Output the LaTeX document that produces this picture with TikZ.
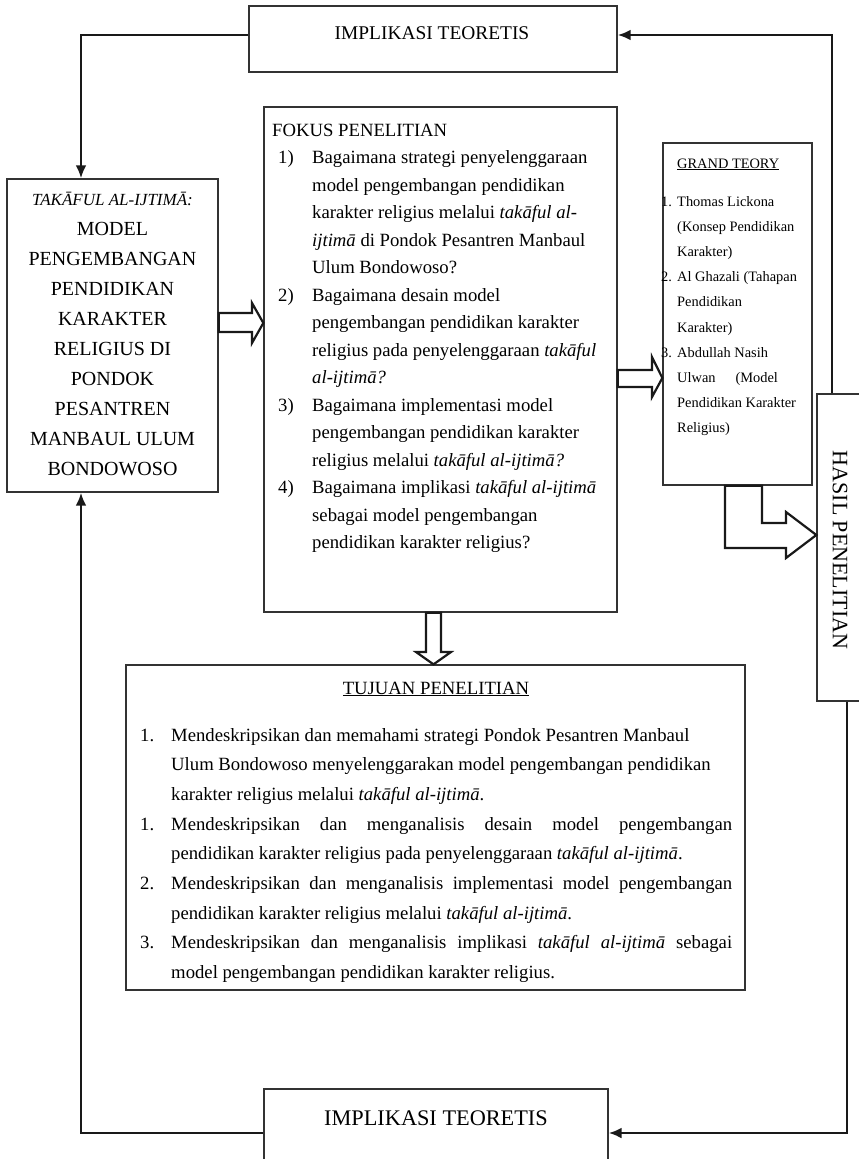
\documentclass[tikz,border=0pt]{standalone}
\usepackage{fontspec}
\setmainfont{Liberation Serif}
\usetikzlibrary{arrows.meta,calc}
\begin{document}
\begin{tikzpicture}[x=1pt,y=-1pt,
  box/.style={draw=black!80,line width=1.3pt,rectangle,inner sep=0pt},
  conn/.style={line width=2.8pt,draw=black!90,-{Latex[length=13pt,width=11pt]}},
  blk/.style={line width=2.2pt,draw=black!90,fill=white,line join=miter},
  txt/.style={inner sep=0pt,align=left},
  ctxt/.style={inner sep=0pt,align=center},
]
\useasboundingbox (0,0) rectangle (859,1159);
\clip (0,0) rectangle (859,1159);

% boxes
\node[box,minimum width=368pt,minimum height=66pt] (top) at (433,39) {};
\node[box,minimum width=211pt,minimum height=313pt] (left) at (112.5,335.5) {};
\node[box,minimum width=353pt,minimum height=505pt] (fokus) at (440.5,359.5) {};
\node[box,minimum width=149pt,minimum height=342pt] (grand) at (737.5,314) {};
\node[box,minimum width=63pt,minimum height=307pt] (hasil) at (848.5,547.5) {};
\node[box,minimum width=619pt,minimum height=325pt] (tujuan) at (435.5,827.5) {};
\node[box,minimum width=344pt,minimum height=91pt] (bot) at (436,1134.5) {};

% texts
\node[ctxt,anchor=base,font=\fontsize{19.4}{24}\selectfont] (toptxt) at (432,39.4) {IMPLIKASI TEORETIS};
\node[ctxt,anchor=base,font=\fontsize{22.3}{26}\selectfont] (bottxt) at (436,1125.4) {IMPLIKASI TEORETIS};

\node[ctxt,anchor=base,font=\fontsize{20}{30}\selectfont] (lefttxt) at (112.5,475) {{\fontsize{17}{30}\selectfont\itshape TAKĀFUL AL-IJTIMĀ:}\\MODEL\\PENGEMBANGAN\\PENDIDIKAN\\KARAKTER\\RELIGIUS DI\\PONDOK\\PESANTREN\\MANBAUL ULUM\\BONDOWOSO};

\node[txt,anchor=base west,font=\fontsize{18.7}{27.5}\selectfont] (fokustitle) at (272,136) {FOKUS PENELITIAN};
\node[txt,anchor=base west,font=\fontsize{18.7}{27.5}\selectfont] (fokustxt) at (278,548.5) {%
\makebox[34pt][l]{1)}Bagaimana strategi penyelenggaraan\\
\makebox[34pt][l]{}model pengembangan pendidikan\\
\makebox[34pt][l]{}karakter religius melalui \textit{takāful al-}\\
\makebox[34pt][l]{}\textit{ijtimā} di Pondok Pesantren Manbaul\\
\makebox[34pt][l]{}Ulum Bondowoso?\\
\makebox[34pt][l]{2)}Bagaimana desain model\\
\makebox[34pt][l]{}pengembangan pendidikan karakter\\
\makebox[34pt][l]{}religius pada penyelenggaraan \textit{takāful}\\
\makebox[34pt][l]{}\textit{al-ijtimā?}\\
\makebox[34pt][l]{3)}Bagaimana implementasi model\\
\makebox[34pt][l]{}pengembangan pendidikan karakter\\
\makebox[34pt][l]{}religius melalui \textit{takāful al-ijtimā?}\\
\makebox[34pt][l]{4)}Bagaimana implikasi \textit{takāful al-ijtimā}\\
\makebox[34pt][l]{}sebagai model pengembangan\\
\makebox[34pt][l]{}pendidikan karakter religius?};

\node[txt,anchor=base west,font=\fontsize{14.4}{25.2}\selectfont] (grandtitle) at (677,168) {\underline{GRAND TEORY}};
\node[txt,anchor=base west,font=\fontsize{14.4}{25.2}\selectfont] (grandtxt) at (661,432.8) {%
\makebox[16pt][l]{1.}Thomas Lickona\\
\makebox[16pt][l]{}(Konsep Pendidikan\\
\makebox[16pt][l]{}Karakter)\\
\makebox[16pt][l]{2.}Al Ghazali (Tahapan\\
\makebox[16pt][l]{}Pendidikan\\
\makebox[16pt][l]{}Karakter)\\
\makebox[16pt][l]{3.}Abdullah Nasih\\
\makebox[16pt][l]{}Ulwan\hspace{20pt}(Model\\
\makebox[16pt][l]{}Pendidikan Karakter\\
\makebox[16pt][l]{}Religius)};

\node[inner sep=0pt,rotate=-90,font=\fontsize{22}{26}\selectfont] (hasiltxt) at (840,550) {HASIL PENELITIAN};

\node[ctxt,anchor=base,font=\fontsize{18.7}{27.5}\selectfont] (tujuantitle) at (436,694) {\underline{TUJUAN PENELITIAN}};
\node[txt,anchor=base west,font=\fontsize{18.7}{29.7}\selectfont] (tujuantxt) at (140,978.6) {%
\makebox[31pt][l]{1.}Mendeskripsikan dan memahami strategi Pondok Pesantren Manbaul\\
\makebox[31pt][l]{}Ulum Bondowoso menyelenggarakan model pengembangan pendidikan\\
\makebox[31pt][l]{}karakter religius melalui \textit{takāful al-ijtimā}.\\
\makebox[31pt][l]{1.}\makebox[561pt][s]{Mendeskripsikan dan menganalisis desain model pengembangan}\\
\makebox[31pt][l]{}pendidikan karakter religius pada penyelenggaraan \textit{takāful al-ijtimā}.\\
\makebox[31pt][l]{2.}\makebox[561pt][s]{Mendeskripsikan dan menganalisis implementasi model pengembangan}\\
\makebox[31pt][l]{}pendidikan karakter religius melalui \textit{takāful al-ijtimā}.\\
\makebox[31pt][l]{3.}\makebox[561pt][s]{Mendeskripsikan dan menganalisis implikasi \textit{takāful al-ijtimā} sebagai}\\
\makebox[31pt][l]{}model pengembangan pendidikan karakter religius.};

% connectors
\coordinate (cTL) at (81,35);
\coordinate (cTR) at (832,35);
\coordinate (cBR) at (847,1133);
\coordinate (cBL) at (81,1133);
\draw[conn] (top.west |- cTL) -- (cTL) -- (cTL |- left.north);
\draw[conn] (cTR |- hasil.north) -- (cTR) -- (cTR -| top.east);
\draw[conn] (cBR |- hasil.south) -- (cBR) -- (cBR -| bot.east);
\draw[conn] (bot.west |- cBL) -- (cBL) -- (cBL |- left.south);

% block arrows
\draw[blk] (left.east |- 0,313) -- (252,313) -- (252,303) -- (fokus.west |- 0,323) -- (252,343) -- (252,332) -- (left.east |- 0,332) -- cycle;
\draw[blk] (fokus.east |- 0,370) -- (652,370) -- (652,357) -- (grand.west |- 0,378) -- (652,397) -- (652,387) -- (fokus.east |- 0,387) -- cycle;
\draw[blk] (426,0 |- fokus.south) -- (426,652) -- (416,652) -- (433.5,0 |- tujuan.north) -- (451,652) -- (441,652) -- (441,0 |- fokus.south) -- cycle;
\draw[blk] (725,0 |- grand.south) -- (725,548) -- (786,548) -- (786,558) -- (hasil.west |- 0,535) -- (786,512) -- (786,523) -- (762,523) -- (762,0 |- grand.south) -- cycle;
\end{tikzpicture}
\end{document}
